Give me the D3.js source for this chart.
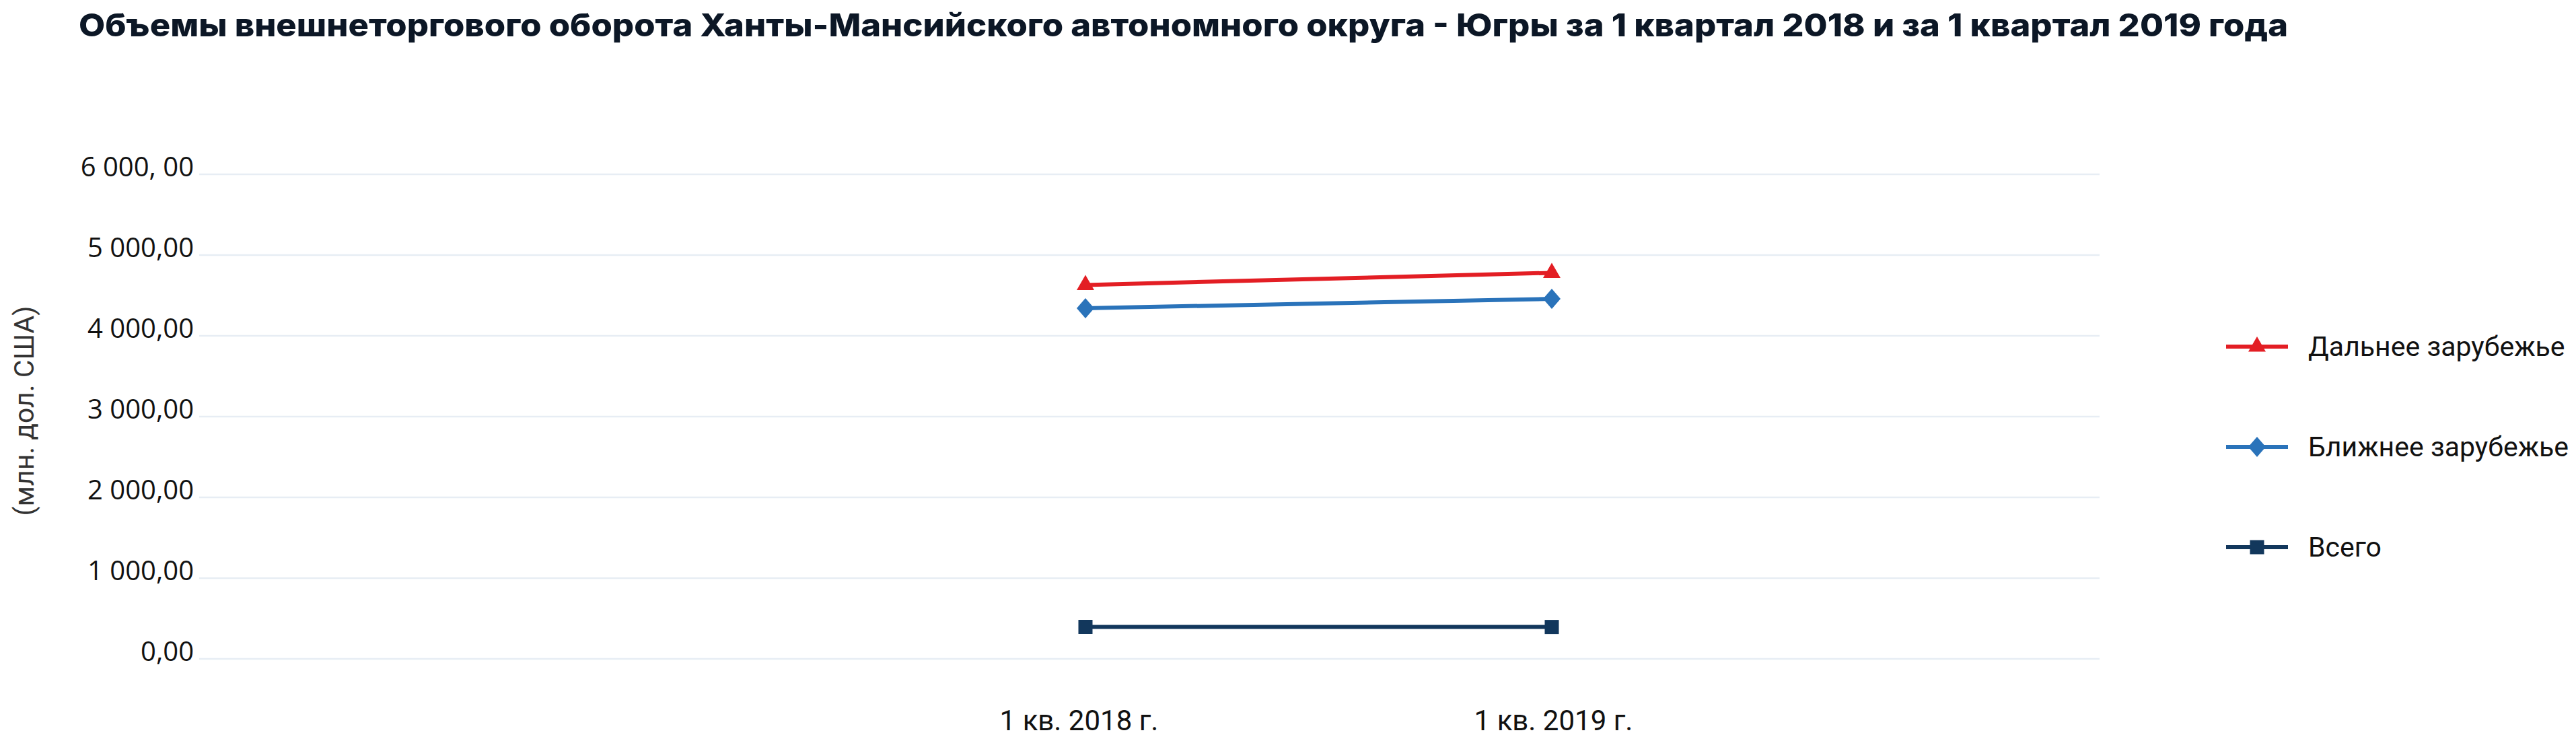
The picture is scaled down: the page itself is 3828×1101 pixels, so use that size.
<!DOCTYPE html>
<html>
<head>
<meta charset="utf-8">
<script src="https://cdn.jsdelivr.net/npm/d3@7"></script>
<style>
  html, body { margin: 0; padding: 0; background: #ffffff; }
  svg { display: block; }
</style>
</head>
<body>
<script>
// ---- data ----
const categories = ["1 кв. 2018 г.", "1 кв. 2019 г."];
const seriesNames = ["Дальнее зарубежье", "Ближнее зарубежье", "Всего"];
const farAbroad = [4630, 4780];
const nearAbroad = [4342, 4458];
const total = [396, 395];
const yTicks = [0, 1000, 2000, 3000, 4000, 5000, 6000];
const yTickLabels = ["0,00", "1 000,00", "2 000,00", "3 000,00", "4 000,00", "5 000,00", "6 000, 00"];
const titleText = "Объемы внешнеторгового оборота Ханты-Мансийского автономного округа - Югры за 1 квартал 2018 и за 1 квартал 2019 года";
const yAxisTitle = "(млн. дол. США)";

// ---- layout ----
const W = 3828, H = 1101;
const colors = ["#e31e24", "#2a73ba", "#12375c"];
const markers = ["triangle", "diamond", "square"];

const svg = d3.select("body").append("svg").attr("width", W).attr("height", H);

const x = d3.scalePoint().domain(categories).range([1613, 2306]).padding(0);
const xLabel = d3.scalePoint().domain(categories).range([1603, 2308]).padding(0);
const y = d3.scaleLinear().domain([0, 6000]).range([979, 259]);
const gridX0 = 296, gridX1 = 3120;

// title
const title = svg.append("text")
  .attr("x", 117).attr("y", 54)
  .attr("font-family", "Inter, 'Open Sans', sans-serif")
  .attr("font-weight", 800)
  .attr("font-size", 47)
  .attr("fill", "#0c1726")
  .text(titleText);
title.attr("textLength", 3283).attr("lengthAdjust", "spacingAndGlyphs");

// gridlines
svg.append("g").selectAll("line").data(yTicks).join("line")
  .attr("x1", gridX0).attr("x2", gridX1)
  .attr("y1", d => y(d)).attr("y2", d => y(d))
  .attr("stroke", "#e7edf4").attr("stroke-width", 2.5);

// y axis labels
const yAxis = d3.axisLeft(y).tickValues(yTicks).tickSize(0).tickPadding(0)
  .tickFormat((d, i) => yTickLabels[i]);
const gy = svg.append("g").attr("transform", `translate(288,0)`).call(yAxis);
gy.select(".domain").remove();
gy.selectAll("text")
  .attr("font-family", "'Open Sans', sans-serif")
  .attr("font-size", 40)
  .attr("fill", "#111")
  .attr("dy", "0.05em")
  .attr("text-anchor", "end");

// y title
svg.append("text")
  .attr("transform", `translate(50,${(452 + 769) / 2}) rotate(-90)`)
  .attr("text-anchor", "middle")
  .attr("font-family", "Roboto, sans-serif")
  .attr("font-size", 41)
  .attr("fill", "#333")
  .text(yAxisTitle);

// x axis labels
const xAxis = d3.axisBottom(xLabel).tickSize(0).tickPadding(0);
const gx = svg.append("g").attr("transform", `translate(0,1085)`).call(xAxis);
gx.select(".domain").remove();
gx.selectAll("text")
  .attr("font-family", "Roboto, sans-serif")
  .attr("font-size", 42)
  .attr("fill", "#111")
  .attr("dy", "0");

// marker paths
function markerPath(kind) {
  if (kind === "triangle") return d3.symbol(d3.symbolTriangle, 292)();
  if (kind === "square") return d3.symbol(d3.symbolSquare, 441)();
  const p = d3.path();
  p.moveTo(0, -15); p.lineTo(13, 0); p.lineTo(0, 15); p.lineTo(-13, 0); p.closePath();
  return p.toString();
}

const series = [farAbroad, nearAbroad, total];
const line = d3.line().x((d, i) => x(categories[i])).y(d => y(d));

series.forEach((vals, s) => {
  const g = svg.append("g");
  g.append("path").datum(vals)
    .attr("d", line)
    .attr("fill", "none")
    .attr("stroke", colors[s])
    .attr("stroke-width", 6);
  g.selectAll("path.m").data(vals).join("path")
    .attr("class", "m")
    .attr("d", markerPath(markers[s]))
    .attr("transform", (d, i) => `translate(${x(categories[i])},${y(d)})`)
    .attr("fill", colors[s]);
});

// legend
const legendY = d3.scalePoint().domain(seriesNames).range([515, 813]);
const lg = svg.append("g");
seriesNames.forEach((name, s) => {
  const ly = legendY(name);
  lg.append("line")
    .attr("x1", 3308).attr("x2", 3400).attr("y1", ly).attr("y2", ly)
    .attr("stroke", colors[s]).attr("stroke-width", 6);
  lg.append("path")
    .attr("d", markerPath(markers[s]))
    .attr("transform", `translate(3354,${ly})`)
    .attr("fill", colors[s]);
  lg.append("text")
    .attr("x", 3430).attr("y", ly)
    .attr("dy", "0.35em")
    .attr("font-family", "Roboto, sans-serif")
    .attr("font-size", 41)
    .attr("fill", "#111")
    .text(name);
});
</script>
</body>
</html>
